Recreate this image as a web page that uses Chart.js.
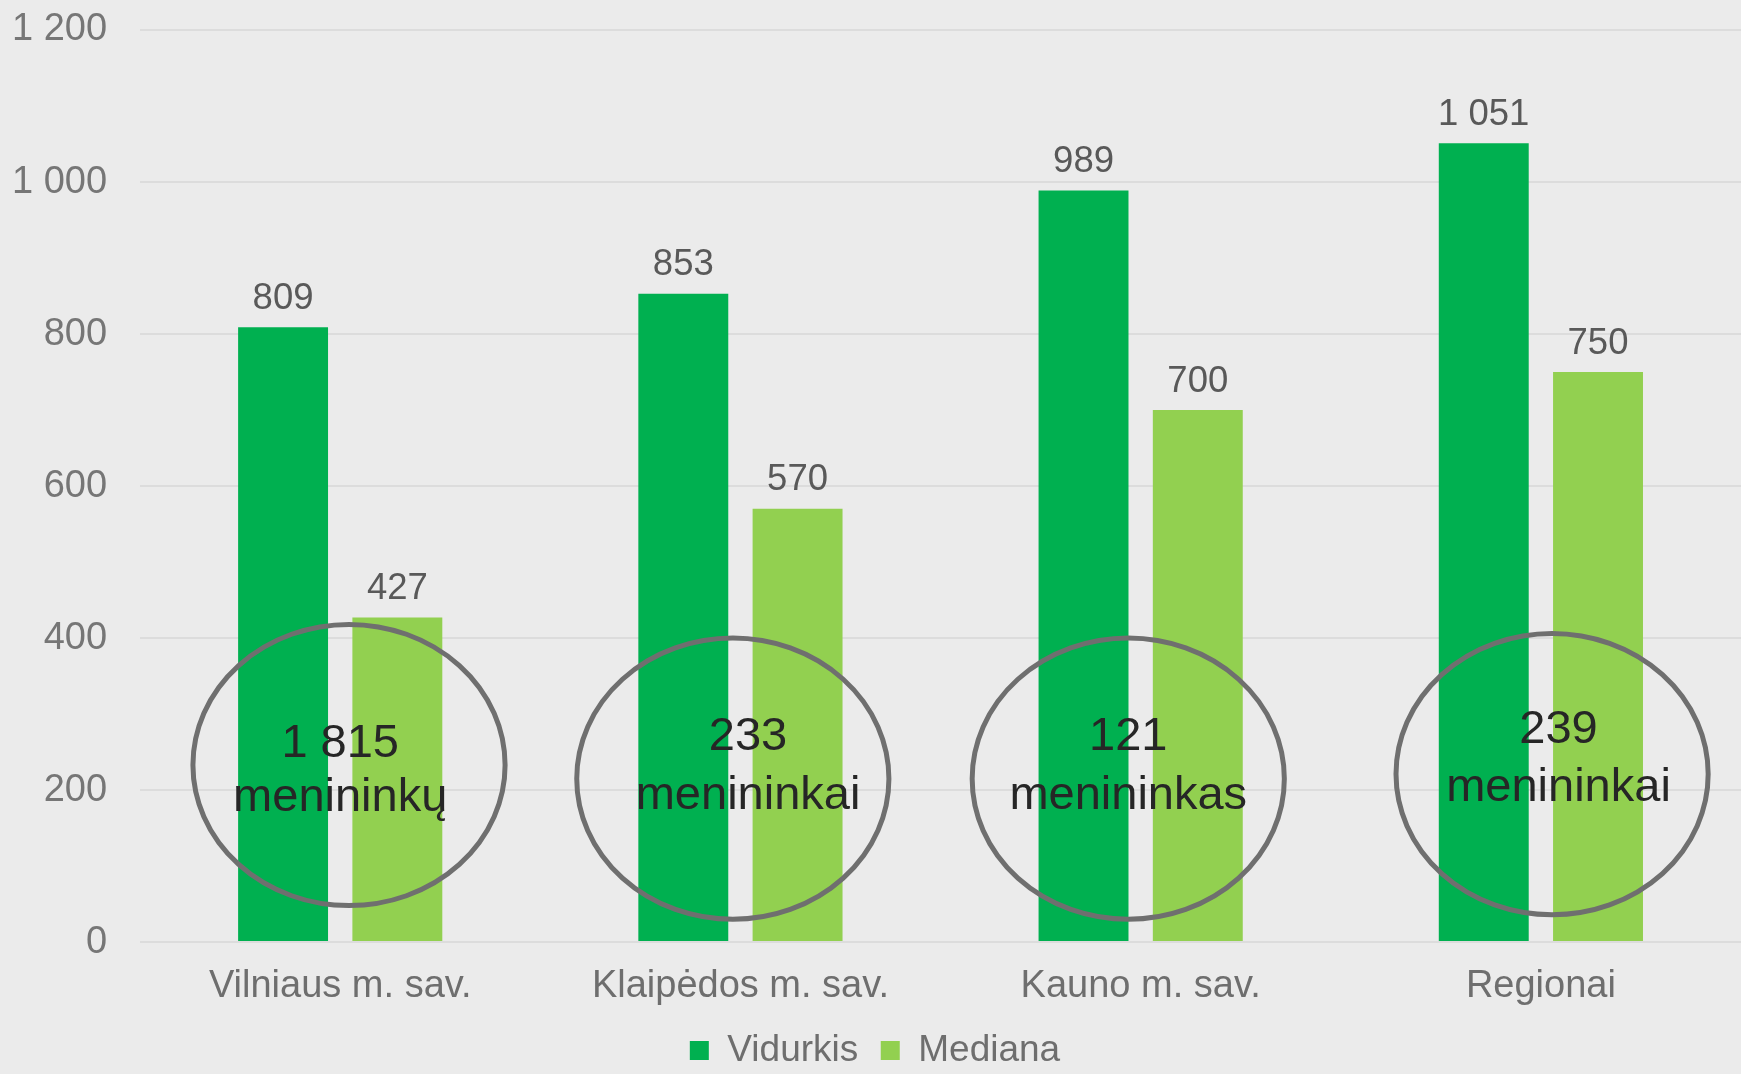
<!DOCTYPE html>
<html>
<head>
<meta charset="utf-8">
<script src="https://cdn.jsdelivr.net/npm/chart.js@4.4.1/dist/chart.umd.min.js"></script>
<style>
  html, body { margin: 0; padding: 0; background: #ebebeb; }
  #wrap { position: relative; width: 1741px; height: 1074px; }
</style>
</head>
<body>
<div id="wrap"><canvas id="chart"></canvas></div>
<script>
const categories = ["Vilniaus m. sav.", "Klaipėdos m. sav.", "Kauno m. sav.", "Regionai"];
const vidurkis   = [809, 853, 989, 1051];
const mediana    = [427, 570, 700, 750];
const yTicks     = [0, 200, 400, 600, 800, 1000, 1200];

// circled notes: number of artists per group
const artistCounts = ["1 815", "233", "121", "239"];
const artistWords  = ["menininkų", "menininkai", "menininkas", "menininkai"];
const circleY      = [233, 215, 215, 221];          // ellipse centre, value units
const circleShift  = [0.022, -0.019, -0.031, 0.028]; // ellipse centre, category units
const countY       = [260, 270, 270, 279];
const wordY        = [190, 192, 192, 203];
const textShift    = [0, 0.019, -0.031, 0.044];

const FONT = "'Liberation Sans', Arial, sans-serif";

function fmt(n) {
  return String(n).replace(/\B(?=(\d{3})+(?!\d))/g, " ");
}

const background = {
  id: "background",
  beforeDraw(chart) {
    const { ctx, width, height } = chart;
    ctx.save();
    ctx.fillStyle = "#ebebeb";
    ctx.fillRect(0, 0, width, height);
    ctx.restore();
  }
};

const annotations = {
  id: "annotations",
  afterDatasetsDraw(chart) {
    const { ctx, scales: { x, y } } = chart;
    ctx.save();
    ctx.textAlign = "center";
    ctx.textBaseline = "middle";

    // value labels above bars
    ctx.font = `36.5px ${FONT}`;
    ctx.fillStyle = "#595959";
    chart.data.datasets.forEach((ds, di) => {
      chart.getDatasetMeta(di).data.forEach((bar, i) => {
        ctx.fillText(fmt(ds.data[i]), bar.x, bar.y - 28.5);
      });
    });

    // ellipses with artist counts
    categories.forEach((c, i) => {
      const cx = x.getPixelForValue(i + circleShift[i]);
      const cy = y.getPixelForValue(circleY[i]);
      const rx = x.getPixelForValue(0.39) - x.getPixelForValue(0);
      const ry = y.getPixelForValue(0) - y.getPixelForValue(185);
      ctx.beginPath();
      ctx.ellipse(cx, cy, rx, ry, 0, 0, Math.PI * 2);
      ctx.lineWidth = 5;
      ctx.strokeStyle = "#6f6f6f";
      ctx.stroke();

      const tx = x.getPixelForValue(i + textShift[i]);
      ctx.font = `47px ${FONT}`;
      ctx.fillStyle = "#262626";
      ctx.fillText(artistCounts[i], tx, y.getPixelForValue(countY[i]));
      ctx.fillText(artistWords[i], tx, y.getPixelForValue(wordY[i]));
    });
    ctx.restore();
  }
};

new Chart(document.getElementById("chart"), {
  type: "bar",
  data: {
    labels: categories,
    datasets: [
      { label: "Vidurkis", data: vidurkis, backgroundColor: "#00b050", categoryPercentage: 0.571, barPercentage: 0.787 },
      { label: "Mediana",  data: mediana,  backgroundColor: "#92d050", categoryPercentage: 0.571, barPercentage: 0.787 }
    ]
  },
  options: {
    responsive: true, maintainAspectRatio: false, animation: false,
    layout: { padding: { left: 9, right: 0, top: 30, bottom: -5 } },
    plugins: {
      tooltip: { enabled: false },
      legend: {
        position: "bottom",
        labels: {
          boxWidth: 19, boxHeight: 19, padding: 22.5,
          color: "#6e6e6e", font: { family: FONT, size: 37 }
        }
      }
    },
    scales: {
      x: {
        grid: { display: true, color: "transparent", drawTicks: true, tickLength: 21.4, tickColor: "transparent" },
        border: { display: false },
        ticks: { color: "#6e6e6e", padding: 4, font: { family: FONT, size: 38, lineHeight: 1 } }
      },
      y: {
        min: 0, max: 1200,
        afterBuildTicks: axis => { axis.ticks = yTicks.map(v => ({ value: v })); },
        grid: { color: "#dcdcdc", lineWidth: 2, drawTicks: true, tickLength: 30, tickColor: "transparent" },
        border: { display: false },
        ticks: { color: "#767676", padding: 3, callback: v => fmt(v), font: { family: FONT, size: 38, lineHeight: 1 } }
      }
    }
  },
  plugins: [background, annotations]
});
</script>
</body>
</html>
